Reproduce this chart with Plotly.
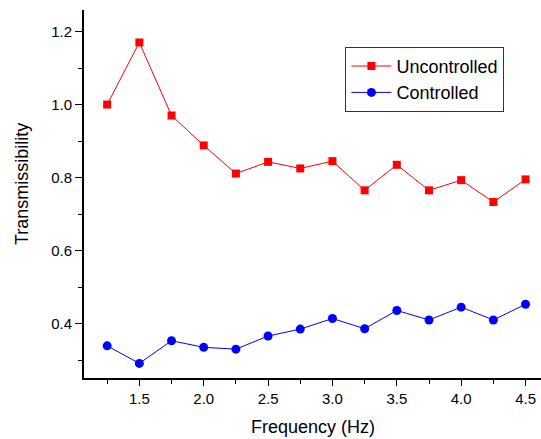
import plotly.graph_objects as go

freq = [1.25, 1.5, 1.75, 2.0, 2.25, 2.5, 2.75, 3.0, 3.25, 3.5, 3.75, 4.0, 4.25, 4.5]
uncontrolled = [1.0, 1.17, 0.97, 0.888, 0.811, 0.843, 0.825, 0.845, 0.765, 0.835, 0.765, 0.793, 0.733, 0.795]
controlled = [0.339, 0.291, 0.353, 0.335, 0.330, 0.366, 0.385, 0.414, 0.386, 0.436, 0.410, 0.445, 0.410, 0.453]

x_ticks = [1.5, 2.0, 2.5, 3.0, 3.5, 4.0, 4.5]
x_labels = ["1.5", "2.0", "2.5", "3.0", "3.5", "4.0", "4.5"]
y_ticks = [0.4, 0.6, 0.8, 1.0, 1.2]
y_labels = ["0.4", "0.6", "0.8", "1.0", "1.2"]

font = "Liberation Sans, Arial, sans-serif"

fig = go.Figure()
fig.add_trace(go.Scatter(x=freq, y=uncontrolled, name="Uncontrolled", mode="lines+markers",
                         line=dict(color="#ff0000", width=1),
                         marker=dict(symbol="square", size=8, color="#ff0000")))
fig.add_trace(go.Scatter(x=freq, y=controlled, name="Controlled", mode="lines+markers",
                         line=dict(color="#0000ff", width=1),
                         marker=dict(symbol="circle", size=9, color="#0000ff")))

fig.update_layout(
    width=541, height=439,
    margin=dict(l=84, r=0, t=10, b=61),
    plot_bgcolor="white", paper_bgcolor="white",
    font=dict(family=font, size=15, color="black"),
    showlegend=True,
    legend=dict(x=0.572, y=0.90, xanchor="left", yanchor="top",
                bordercolor="#333333", borderwidth=1, bgcolor="white",
                font=dict(size=18), itemwidth=40, tracegroupgap=0),
    xaxis=dict(range=[1.07, 4.62], tickvals=x_ticks, ticktext=x_labels,
               showline=True, linecolor="black", linewidth=2, showgrid=False, zeroline=False,
               ticks="outside", ticklen=6, tickwidth=1, tickcolor="black",
               minor=dict(tickvals=freq, ticks="outside", ticklen=4, tickcolor="black", showgrid=False)),
    yaxis=dict(range=[0.251, 1.259], tickvals=y_ticks, ticktext=y_labels,
               showline=True, linecolor="black", linewidth=2, showgrid=False, zeroline=False,
               ticks="outside", ticklen=7, tickwidth=1, tickcolor="black",
               minor=dict(tickvals=[0.3, 0.5, 0.7, 0.9, 1.1], ticks="outside", ticklen=4, tickcolor="black", showgrid=False)),
    annotations=[
        dict(text="Frequency (Hz)", xref="paper", yref="paper", x=0.5, y=-0.133,
             xanchor="center", yanchor="middle", showarrow=False, font=dict(size=18)),
        dict(text="Transmissibility", xref="paper", yref="paper", x=-0.1357, y=0.527,
             xanchor="center", yanchor="middle", textangle=-90, showarrow=False, font=dict(size=18)),
    ],
)

fig.write_html("out.html")
